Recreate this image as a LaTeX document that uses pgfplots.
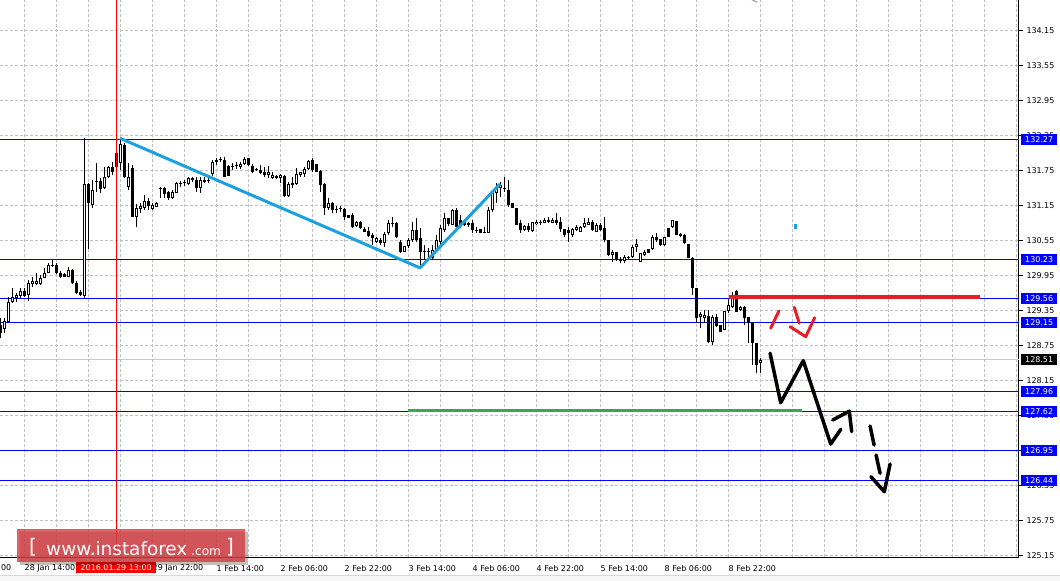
\documentclass[border=0pt]{standalone}
\usepackage{pgfplots}
\pgfplotsset{compat=1.18}
\usepackage{pgfplotstable}
\usepackage{fontspec}
\setmainfont{DejaVu Sans}

\definecolor{mtblue}{RGB}{0,0,255}
\definecolor{cyanln}{RGB}{27,160,224}
\definecolor{redln}{RGB}{232,30,38}
\definecolor{greenln}{RGB}{52,168,83}
\definecolor{wm}{RGB}{214,62,68}
\definecolor{gridc}{RGB}{192,192,192}

\pgfplotstableread{
i o h l c
0 129.102 129.222 128.879 128.965
1 129.028 129.217 128.960 129.176
2 129.159 129.587 129.154 129.496
3 129.491 129.736 129.479 129.587
4 129.564 129.655 129.496 129.616
5 129.604 129.736 129.564 129.684
6 129.689 129.730 129.587 129.604
7 129.616 129.872 129.518 129.826
8 129.809 129.929 129.758 129.860
9 129.804 129.987 129.787 129.860
10 129.804 129.958 129.787 129.912
11 129.912 130.073 129.902 129.987
12 129.998 130.169 129.987 130.129
13 130.121 130.215 130.095 130.104
14 130.129 130.159 129.975 129.998
15 129.998 130.032 129.912 129.929
16 129.975 129.984 129.919 129.929
17 129.929 130.100 129.924 130.044
18 130.044 130.061 129.804 129.816
19 129.816 129.860 129.633 129.655
20 129.672 129.701 129.599 129.616
21 129.604 132.299 129.564 131.516
22 131.516 131.533 130.403 131.186
23 131.157 131.585 131.105 131.414
24 131.564 131.876 131.385 131.547
25 131.573 131.614 131.357 131.426
26 131.443 131.813 131.426 131.631
27 131.631 131.825 131.614 131.802
28 131.802 131.898 131.670 131.727
29 131.813 132.099 131.722 132.047
30 131.881 132.299 131.756 132.201
31 132.184 132.213 131.614 131.641
32 131.470 131.876 131.414 131.641
33 131.785 131.842 130.943 130.956
34 130.956 131.174 130.785 131.100
35 131.088 131.186 131.020 131.140
36 131.100 131.328 131.071 131.225
37 131.230 131.277 131.071 131.140
38 131.088 131.191 131.071 131.157
39 131.128 131.200 131.114 131.186
40 131.448 131.465 131.277 131.431
41 131.443 131.465 131.277 131.345
42 131.374 131.388 131.242 131.271
43 131.271 131.414 131.259 131.374
44 131.367 131.556 131.357 131.528
45 131.539 131.573 131.465 131.511
46 131.546 131.585 131.482 131.528
47 131.511 131.628 131.499 131.614
48 131.614 131.641 131.556 131.585
49 131.585 131.641 131.385 131.443
50 131.443 131.641 131.357 131.585
51 131.585 131.641 131.528 131.556
52 131.590 131.653 131.528 131.573
53 131.682 131.927 131.658 131.898
54 131.927 131.967 131.842 131.898
55 131.936 131.984 131.898 131.919
56 131.927 131.984 131.636 131.641
57 131.830 131.842 131.653 131.658
58 131.821 131.871 131.756 131.804
59 131.838 131.888 131.773 131.821
60 131.813 131.898 131.773 131.859
61 131.859 131.984 131.842 131.945
62 131.957 131.970 131.833 131.842
63 131.830 131.859 131.700 131.717
64 131.777 131.785 131.744 131.760
65 131.756 131.842 131.682 131.700
66 131.717 131.813 131.641 131.670
67 131.670 131.830 131.614 131.727
68 131.624 131.727 131.602 131.676
69 131.658 131.670 131.602 131.614
70 131.614 131.682 131.528 131.665
71 131.658 131.670 131.302 131.311
72 131.311 131.556 131.299 131.516
73 131.528 131.641 131.443 131.499
74 131.511 131.785 131.499 131.682
75 131.665 131.727 131.641 131.717
76 131.682 131.813 131.641 131.773
77 131.773 131.927 131.756 131.910
78 131.927 131.957 131.727 131.756
79 131.854 131.859 131.722 131.727
80 131.739 131.756 131.385 131.499
81 131.511 131.528 130.986 131.100
82 131.100 131.271 131.071 131.186
83 131.186 131.213 131.015 131.071
84 131.092 131.145 131.025 131.075
85 131.097 131.145 131.042 131.080
86 131.083 131.100 130.900 130.956
87 130.986 130.994 130.926 130.939
88 130.986 131.015 130.758 130.785
89 130.797 130.883 130.785 130.871
90 130.871 130.883 130.746 130.758
91 130.741 130.785 130.689 130.700
92 130.712 130.785 130.614 130.631
93 130.643 130.672 130.472 130.587
94 130.529 130.614 130.501 130.587
95 130.558 130.587 130.472 130.501
96 130.501 130.700 130.443 130.655
97 130.672 130.900 130.643 130.844
98 130.852 130.956 130.785 130.835
99 130.844 130.871 130.587 130.614
100 130.529 130.558 130.330 130.357
101 130.357 130.463 130.347 130.455
102 130.455 130.587 130.415 130.558
103 130.558 130.871 130.529 130.729
104 130.729 130.929 130.529 130.558
105 130.587 130.758 130.078 130.357
106 130.366 130.472 130.215 130.349
107 130.366 130.415 130.215 130.349
108 130.249 130.472 130.215 130.386
109 130.386 130.643 130.357 130.558
110 130.529 130.815 130.472 130.758
111 130.729 131.015 130.700 130.929
112 130.929 130.934 130.797 130.832
113 130.815 131.080 130.806 131.071
114 131.071 131.100 130.780 130.785
115 130.900 130.986 130.758 130.815
116 130.871 130.883 130.797 130.815
117 130.844 130.871 130.785 130.815
118 130.844 130.900 130.672 130.729
119 130.737 130.785 130.672 130.720
120 130.741 130.746 130.672 130.683
121 130.700 130.785 130.669 130.672
122 130.683 131.128 130.672 131.071
123 131.071 131.414 131.042 131.357
124 131.357 131.528 131.186 131.443
125 131.443 131.556 131.299 131.499
126 131.443 131.641 131.385 131.426
127 131.414 131.585 131.128 131.157
128 131.186 131.191 131.097 131.100
129 131.100 131.105 130.806 130.815
130 130.844 130.900 130.672 130.729
131 130.729 130.815 130.720 130.797
132 130.797 130.844 130.700 130.729
133 130.712 130.874 130.703 130.871
134 130.823 130.900 130.815 130.874
135 130.871 130.900 130.815 130.844
136 130.854 130.929 130.844 130.905
137 130.900 130.956 130.844 130.861
138 130.854 130.929 130.844 130.905
139 130.900 131.015 130.815 130.854
140 130.871 130.956 130.700 130.741
141 130.741 130.746 130.614 130.643
142 130.729 130.785 130.529 130.672
143 130.643 130.758 130.614 130.741
144 130.729 130.815 130.720 130.785
145 130.700 130.797 130.695 130.785
146 130.785 130.929 130.758 130.844
147 130.815 130.929 130.806 130.871
148 130.871 130.900 130.720 130.729
149 130.700 130.844 130.695 130.815
150 130.815 130.844 130.720 130.729
151 130.758 130.956 130.529 130.558
152 130.558 130.566 130.292 130.301
153 130.301 130.386 130.186 130.357
154 130.357 130.360 130.206 130.215
155 130.223 130.272 130.159 130.206
156 130.203 130.301 130.159 130.272
157 130.270 130.284 130.232 130.253
158 130.272 130.472 130.244 130.443
159 130.432 130.569 130.357 130.484
160 130.186 130.335 130.181 130.330
161 130.301 130.386 130.284 130.352
162 130.398 130.403 130.330 130.340
163 130.398 130.643 130.386 130.614
164 130.614 130.672 130.529 130.558
165 130.569 130.575 130.463 130.472
166 130.472 130.617 130.463 130.614
167 130.758 130.763 130.609 130.614
168 130.775 130.908 130.758 130.900
169 130.883 130.891 130.635 130.643
170 130.660 130.672 130.614 130.626
171 130.643 130.652 130.497 130.501
172 130.484 130.489 130.241 130.244
173 130.254 130.258 129.616 129.730
174 129.730 129.736 129.141 129.217
175 129.239 129.325 129.045 129.290
176 129.222 129.359 129.131 129.265
177 129.256 129.359 128.789 128.816
178 128.816 129.273 128.760 129.244
179 129.234 129.290 129.073 129.085
180 129.102 129.110 128.982 128.987
181 129.016 129.350 129.008 129.342
182 129.342 129.542 129.302 129.445
183 129.416 129.672 129.388 129.587
184 129.689 129.693 129.325 129.330
185 129.354 129.419 129.350 129.416
186 129.416 129.419 129.102 129.217
187 129.234 129.244 128.789 129.131
188 129.141 129.145 128.417 128.799
189 128.789 128.794 128.280 128.417
190 128.447 128.537 128.280 128.510
}\candles

\tikzset{pbox/.style={anchor=west, fill=mtblue, text=white, inner sep=0pt,
  minimum width=36bp, minimum height=11bp, font=\fontsize{8}{9}\selectfont}}

\begin{document}
\begin{tikzpicture}
\path[use as bounding box] (0,0) rectangle (1060bp,581bp);
\fill[gray!7] (0,0) rectangle (1060bp,6bp);
\draw[gray!30, line width=0.8bp] (0,6bp) -- (1060bp,6bp);
\begin{axis}[
  at={(0bp,23.5bp)}, anchor=south west,
  scale only axis, width=1019bp, height=557.5bp,
  xmin=-0.125, xmax=254.625, ymin=125.121, ymax=134.667,
  axis x line*=bottom, axis y line*=right,
  axis line style={black, line width=1bp, -},
  xtick={6,14,...,254},
  xticklabels={28 Jan 14:00,{},29 Jan 06:00,{},29 Jan 22:00,{},1 Feb 14:00,{},2 Feb 06:00,{},2 Feb 22:00,{},3 Feb 14:00,{},4 Feb 06:00,{},4 Feb 22:00,{},5 Feb 14:00,{},8 Feb 06:00,{},8 Feb 22:00,{},{},{},{},{},{},{},{},{},{}},
  xtick style={draw=none},
  xticklabel style={anchor=north west, inner xsep=0pt, font=\fontsize{8}{9}\selectfont},
  ytick={125.15,125.75,126.35,126.95,127.55,128.15,128.75,129.35,129.95,130.55,131.15,131.75,132.35,132.95,133.55,134.15},
  yticklabels={125.15,125.75,126.35,126.95,127.55,128.15,128.75,129.35,129.95,130.55,131.15,131.75,132.35,132.95,133.55,134.15},
  ytick style={black, line width=0.8bp},
  tick align=outside, major tick length=4bp,
  yticklabel style={anchor=west, font=\fontsize{8}{9}\selectfont},
  grid=major,
  major grid style={gridc, dash pattern=on 3bp off 2bp, line width=0.8bp},
]
% price levels
\addplot[mtblue, line width=1bp] coordinates {(-1,132.27) (260,132.27)};
\addplot[mtblue, line width=1bp] coordinates {(-1,130.23) (260,130.23)};
\addplot[mtblue, line width=1bp] coordinates {(-1,129.56) (260,129.56)};
\addplot[mtblue, line width=1bp] coordinates {(-1,129.15) (260,129.15)};
\addplot[gray!45, line width=1bp] coordinates {(-1,128.51) (260,128.51)};
\addplot[mtblue, line width=1bp] coordinates {(-1,127.96) (260,127.96)};
\addplot[mtblue, line width=1bp] coordinates {(-1,127.62) (260,127.62)};
\addplot[mtblue, line width=1bp] coordinates {(-1,126.95) (260,126.95)};
\addplot[mtblue, line width=1bp] coordinates {(-1,126.44) (260,126.44)};
% candles: wicks, bodies, white interiors
\addplot[black, line width=1bp, quiver={u=0, v=\thisrow{h}-\thisrow{l}}] table[x=i, y=l] {\candles};
\addplot[black, line width=3bp, quiver={u=0, v=\thisrow{c}-\thisrow{o}}] table[x=i, y=o] {\candles};
\addplot[white, line width=1bp, quiver={u=0, v=\thisrow{c}-\thisrow{o}-0.0342},
  restrict expr to domain={\thisrow{c}-\thisrow{o}}{0.035:5}] table[x=i, y expr=\thisrow{o}+0.0171] {\candles};
% time marker
\addplot[red, line width=1bp] coordinates {(29,125.121) (29,134.667)};
% drawings
\addplot[cyanln, line width=3bp, line join=round] coordinates {(29.875,132.30) (104.875,130.08) (124.875,131.517)};
\addplot[cyanln, line width=2.7bp] coordinates {(198.8,130.746) (198.8,130.832)};
\addplot[greenln, line width=3bp] coordinates {(101.9,127.642) (200.3,127.642)};
\addplot[redln, line width=4bp] coordinates {(182.2,129.573) (244.9,129.573)};
\addplot[redln, line width=3bp, line cap=round] coordinates {(192.55,129.046) (194.6,129.342)};
\addplot[redln, line width=3bp, line cap=round] coordinates {(198.45,129.405) (199.7,129.131)};
\addplot[redln, line width=3bp, line cap=round, line join=round] coordinates {(197.4,129.073) (201.3,128.902) (203.55,129.227)};
\addplot[black, line width=3.5bp, line cap=round, line join=round] coordinates {(192.4,128.618) (195.05,127.772) (200.7,128.491) (207.55,127.064) (210.1,127.316)};
\addplot[black, line width=3.5bp, line cap=round] coordinates {(208.05,127.475) (211.95,127.618)};
\addplot[black, line width=3.5bp, line cap=round] coordinates {(212.2,127.63) (212.8,127.275)};
\addplot[black, line width=3.5bp, line cap=round] coordinates {(217.4,127.373) (218.4,127.047)};
\addplot[black, line width=3.5bp, line cap=round] coordinates {(218.9,126.876) (219.9,126.563)};
\addplot[black, line width=3.5bp, line cap=round, line join=round] coordinates {(217.6,126.505) (220.95,126.248) (222.4,126.722)};
\addplot[gray!60, line width=1.5bp] coordinates {(187.9,134.667) (189.2,134.63)};
% anchors for labels
\coordinate (b1) at (axis cs:254.625,132.27);
\coordinate (b2) at (axis cs:254.625,130.23);
\coordinate (b3) at (axis cs:254.625,129.56);
\coordinate (b4) at (axis cs:254.625,129.15);
\coordinate (b5) at (axis cs:254.625,128.51);
\coordinate (b6) at (axis cs:254.625,127.96);
\coordinate (b7) at (axis cs:254.625,127.62);
\coordinate (b8) at (axis cs:254.625,126.95);
\coordinate (b9) at (axis cs:254.625,126.44);
\coordinate (t0) at (axis cs:-10,125.121);
\end{axis}
% price boxes
\node[pbox] at ([xshift=2bp]b1) {132.27};
\node[pbox] at ([xshift=2bp]b2) {130.23};
\node[pbox] at ([xshift=2bp]b3) {129.56};
\node[pbox] at ([xshift=2bp]b4) {129.15};
\node[pbox, fill=black] at ([xshift=2bp]b5) {128.51};
\node[pbox] at ([xshift=2bp]b6) {127.96};
\node[pbox] at ([xshift=2bp]b7) {127.62};
\node[pbox] at ([xshift=2bp]b8) {126.95};
\node[pbox] at ([xshift=2bp]b9) {126.44};
% cut-off first time label
\node[anchor=north west, inner xsep=0pt, font=\fontsize{8}{9}\selectfont] at ([yshift=-4bp]t0) {28 Jan 06:00};
% red time label
\node[anchor=south west, fill=red, text=white, inner sep=0pt, minimum width=80bp, minimum height=11.6bp, font=\fontsize{8}{9}\selectfont] at (76bp,7.7bp) {2016.01.29 13:00};
% watermark
\fill[black, opacity=0.25] (20bp,16bp) rectangle (248bp,49bp);
\fill[wm, opacity=0.82] (17bp,19bp) rectangle (245bp,52bp);
\node[anchor=base west, inner sep=0pt, text=white, font=\fontsize{20}{22}\selectfont] at (29bp,28bp) {[};
\node[anchor=base west, inner sep=0pt, text=white, font=\fontsize{18.5}{20}\selectfont] at (46bp,26bp) {www.instaforex};
\node[anchor=base west, inner sep=0pt, text=white, font=\fontsize{12.2}{14}\selectfont] at (191bp,26bp) {.com};
\node[anchor=base west, inner sep=0pt, text=white, font=\fontsize{20}{22}\selectfont] at (226bp,28bp) {]};
\end{tikzpicture}
\end{document}
